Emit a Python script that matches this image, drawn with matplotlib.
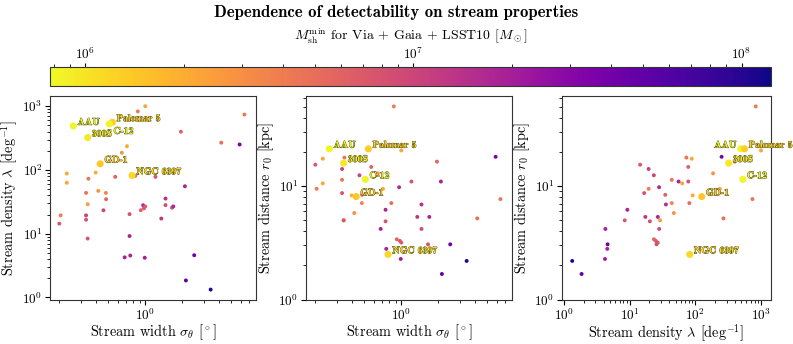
import numpy as np
import matplotlib
matplotlib.use("Agg")
import matplotlib.pyplot as plt
from matplotlib.colors import LogNorm
import matplotlib.patheffects as pe

plt.rcParams['font.family'] = 'serif'
plt.rcParams['font.serif'] = ['cmr10']
plt.rcParams['mathtext.fontset'] = 'cm'
plt.rcParams['axes.formatter.use_mathtext'] = True
plt.rcParams['font.size'] = 10
plt.rcParams['axes.labelsize'] = 10.3
plt.rcParams['xtick.labelsize'] = 9.5
plt.rcParams['ytick.labelsize'] = 9.5
plt.rcParams['xtick.major.pad'] = 2
plt.rcParams['ytick.major.pad'] = 2
plt.rcParams['axes.labelpad'] = 1.5

# streams con nombre
names = ['AAU', 'Palomar 5', 'C-12', '300S', 'GD-1', 'NGC 6397']
named_sigma = [0.26, 0.54, 0.51, 0.34, 0.43, 0.78]
named_lam = [490, 560, 528, 322, 125, 82]
named_r0 = [21.4, 21.4, 11.5, 16.0, 8.1, 2.5]
named_mass = [8.2e5, 1.3e6, 8.3e5, 9.5e5, 1.4e6, 1.15e6]

# resto de streams
sigma = [0.87, 1.0, 6.4, 1.95, 4.15, 5.85, 0.71, 0.645, 0.23, 0.23,
         0.395, 0.345, 0.57, 0.83, 1.21, 2.1, 0.33, 0.415, 0.478, 1.46,
         0.48, 0.34, 0.205, 0.2, 0.33, 0.33, 0.457, 0.745, 0.96, 1.0,
         0.975, 0.92, 1.46, 1.35, 1.65, 1.69, 0.34, 0.745, 0.68, 0.755,
         0.99, 2.5, 2.14, 3.4]
lam = [830, 1000, 740, 398, 268, 251, 236, 186, 88, 63,
       91, 73, 78, 81, 78, 55.5, 43.7, 47, 43.7, 35.6,
       34.8, 29, 19.4, 14.4, 19.4, 16.6, 23.3, 20.3, 28, 26.8,
       25, 23.4, 28.1, 17.3, 25.6, 26.8, 8.4, 9.2, 4.26, 4.55,
       4.2, 4.6, 1.85, 1.33]
r0 = [50.7, 20.7, 7.7, 16.5, 5.2, 18.2, 9.5, 13.0, 17.5, 10.6,
      8.3, 17.9, 14.8, 7.1, 11.0, 11.0, 11.4, 5.8, 7.1, 6.9,
      8.4, 5.0, 9.5, 15.5, 14.2, 8.7, 12.5, 4.9, 9.8, 3.18,
      3.29, 3.4, 4.2, 5.36, 3.07, 5.36, 5.0, 6.2, 4.2, 2.8,
      2.28, 3.07, 1.68, 2.19]
mass = [4.0e6, 2.2e6, 4.5e6, 6.0e6, 5.0e6, 3.5e7, 2.0e6, 2.8e6, 2.2e6, 2.2e6,
        2.0e6, 4.5e6, 6.0e6, 5.0e6, 8.0e6, 1.8e7, 4.5e6, 2.8e6, 3.5e6, 1.5e7,
        6.0e6, 2.6e6, 4.0e6, 7.5e6, 1.1e7, 8.0e6, 1.0e7, 8.0e6, 1.6e7, 7.0e6,
        7.0e6, 6.0e6, 9.0e6, 1.3e7, 8.0e6, 1.7e7, 7.5e6, 1.8e7, 1.9e7, 1.8e7,
        2.0e7, 4.0e7, 5.0e7, 1.0e8]

norm = LogNorm(7.8e5, 1.23e8)
cmap = plt.get_cmap('plasma_r')

W, H = 793, 344
fig = plt.figure(figsize=(W / 100, H / 100), dpi=100)

def box(x0, x1, ytop=96.5, ybot=299.5):
    return [x0 / W, 1 - ybot / H, (x1 - x0) / W, (ybot - ytop) / H]

axs = [fig.add_axes(box(50, 256)), fig.add_axes(box(306, 512)),
       fig.add_axes(box(562, 771))]
cax = fig.add_axes([50 / W, 1 - 85.5 / H, 721 / W, 19 / H])

sigma_lim = (0.168, 7.95)
lam_lim = (0.93, 1420)
r0_lim = (1.0, 62)

paneles = [
    (sigma, lam, named_sigma, named_lam, sigma_lim, lam_lim,
     r"Stream width $\sigma_\theta$ [$^\circ$]", r"Stream density $\lambda$ [deg$^{-1}$]"),
    (sigma, r0, named_sigma, named_r0, sigma_lim, r0_lim,
     r"Stream width $\sigma_\theta$ [$^\circ$]", r"Stream distance $r_0$ [kpc]"),
    (lam, r0, named_lam, named_r0, lam_lim, r0_lim,
     r"Stream density $\lambda$ [deg$^{-1}$]", r"Stream distance $r_0$ [kpc]"),
]

# desplazamiento de las etiquetas (pt) por panel
offsets = [
    {'C-12': (3, -5)},
    {},
    {'AAU': (-3, 3)},
]

for k, (ax, (x, y, nx, ny, xl, yl, xlab, ylab)) in enumerate(zip(axs, paneles)):
    ax.scatter(x, y, c=mass, cmap=cmap, norm=norm, s=8, lw=0, zorder=2)
    ax.scatter(nx, ny, c=named_mass, cmap=cmap, norm=norm, s=26, lw=0, zorder=3)
    for nm, px, py, m in zip(names, nx, ny, named_mass):
        dx, dy = offsets[k].get(nm, (3, 3))
        ax.annotate(nm, (px, py), xytext=(dx, dy), textcoords='offset points',
                    ha='left' if dx > 0 else 'right', va='center',
                    fontsize=7, family='cmb10', color=cmap(norm(m)), zorder=4,
                    path_effects=[pe.withStroke(linewidth=0.6, foreground='#4a4a18')])
    ax.set_xscale('log')
    ax.set_yscale('log')
    ax.set_xlim(xl)
    ax.set_ylim(yl)
    ax.set_xlabel(xlab, labelpad=0)
    ax.set_ylabel(ylab)
    for s in ax.spines.values():
        s.set_color('#333333')

sm = plt.cm.ScalarMappable(norm=norm, cmap=cmap)
cb = fig.colorbar(sm, cax=cax, orientation='horizontal')
cb.ax.xaxis.set_ticks_position('top')
cb.ax.xaxis.set_label_position('top')
cb.ax.tick_params(which='major', pad=0.5, length=3, labelsize=9.5)
cb.ax.tick_params(which='minor', length=2)
cb.set_label(r"$M_{\rm sh}^{\rm min}$ for Via + Gaia + LSST10 [$M_\odot$]",
             labelpad=4.5, fontsize=10)
cb.outline.set_edgecolor('#333333')

fig.text(0.5, 1 - 13 / H, "Dependence of detectability on stream properties",
         ha='center', va='center', fontsize=12, family='cmb10')

fig.savefig('out.png', dpi=100)
